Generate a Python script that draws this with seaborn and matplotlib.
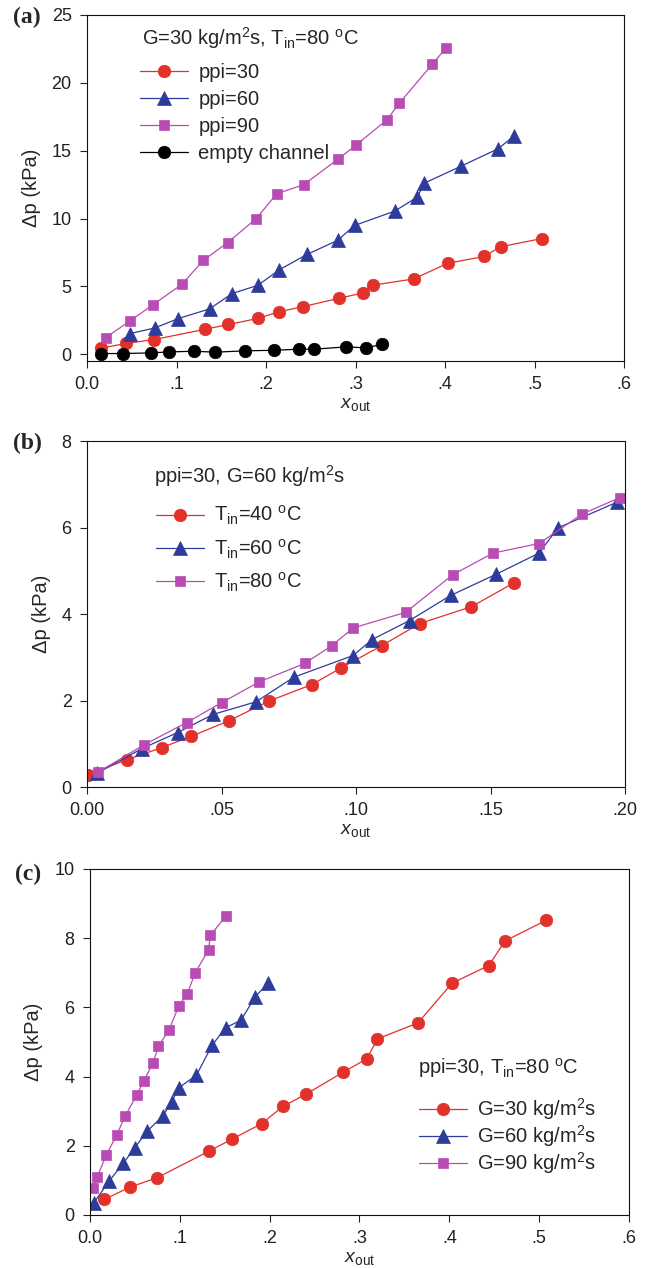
import numpy as np
import pandas as pd
import seaborn as sns
import matplotlib.pyplot as plt

# (a) G=30, Tin=80, different foams
x_ppi30 = [0.016, 0.044, 0.075, 0.132, 0.158, 0.191, 0.215, 0.241, 0.282, 0.308, 0.320, 0.365, 0.403, 0.444, 0.462, 0.508]
dp_ppi30 = [0.45, 0.80, 1.08, 1.84, 2.19, 2.64, 3.14, 3.50, 4.13, 4.51, 5.09, 5.55, 6.70, 7.21, 7.92, 8.52]
x_ppi60 = [0.048, 0.076, 0.102, 0.137, 0.162, 0.191, 0.215, 0.246, 0.280, 0.299, 0.344, 0.369, 0.377, 0.418, 0.459, 0.477]
dp_ppi60 = [1.52, 1.94, 2.63, 3.34, 4.47, 5.08, 6.23, 7.36, 8.39, 9.49, 10.55, 11.58, 12.61, 13.86, 15.13, 16.07]
x_ppi90 = [0.021, 0.048, 0.074, 0.106, 0.130, 0.157, 0.189, 0.212, 0.242, 0.280, 0.301, 0.335, 0.349, 0.386, 0.401]
dp_ppi90 = [1.23, 2.45, 3.66, 5.15, 6.92, 8.22, 9.99, 11.83, 12.49, 14.35, 15.43, 17.27, 18.50, 21.39, 22.55]
x_empty = [0.016, 0.040, 0.072, 0.092, 0.120, 0.143, 0.177, 0.209, 0.237, 0.254, 0.289, 0.312, 0.330]
dp_empty = [0.05, 0.05, 0.10, 0.17, 0.22, 0.15, 0.25, 0.29, 0.37, 0.37, 0.54, 0.47, 0.74]

# (b) ppi=30, G=60, different inlet temperatures
x_t40 = [0.0005, 0.0147, 0.0277, 0.0386, 0.0527, 0.0677, 0.0836, 0.0946, 0.1096, 0.1237, 0.1429, 0.1587]
dp_t40 = [0.29, 0.63, 0.91, 1.17, 1.53, 1.99, 2.37, 2.76, 3.27, 3.78, 4.17, 4.72]
x_t60 = [0.0038, 0.0204, 0.0337, 0.0469, 0.0628, 0.0769, 0.0989, 0.1060, 0.1199, 0.1352, 0.1521, 0.1681, 0.1750, 0.1972]
dp_t60 = [0.32, 0.89, 1.26, 1.68, 1.97, 2.54, 3.04, 3.41, 3.85, 4.43, 4.92, 5.41, 5.99, 6.59]
# same run: ppi=30, G=60, Tin=80
x_t80 = [0.004, 0.021, 0.037, 0.050, 0.064, 0.081, 0.091, 0.099, 0.1185, 0.136, 0.151, 0.168, 0.184, 0.198]
dp_t80 = [0.34, 0.97, 1.49, 1.95, 2.43, 2.86, 3.27, 3.68, 4.04, 4.91, 5.41, 5.63, 6.31, 6.69]

# (c) ppi=30, Tin=80, different mass fluxes
x_g90 = [0.003, 0.008, 0.018, 0.030, 0.039, 0.052, 0.060, 0.070, 0.076, 0.088, 0.099, 0.108, 0.117, 0.132, 0.134, 0.151]
dp_g90 = [0.77, 1.09, 1.73, 2.32, 2.86, 3.46, 3.88, 4.38, 4.87, 5.35, 6.05, 6.38, 6.99, 7.67, 8.08, 8.63]

xticks_06 = [0, 0.1, 0.2, 0.3, 0.4, 0.5, 0.6]
xlabels_06 = ['0.0', '.1', '.2', '.3', '.4', '.5', '.6']
xticks_02 = [0, 0.05, 0.10, 0.15, 0.20]
xlabels_02 = ['0.00', '.05', '.10', '.15', '.20']

RED = '#e2302a'
BLUE = '#2d3c9b'
MAG = '#b94bb5'
BLK = '#000000'

sns.set_style('ticks')
plt.rcParams['font.family'] = ['Liberation Sans', 'DejaVu Sans']
plt.rcParams['mathtext.fontset'] = 'custom'
plt.rcParams['mathtext.rm'] = 'Liberation Sans'
plt.rcParams['mathtext.it'] = 'Liberation Sans:italic'
plt.rcParams['mathtext.default'] = 'regular'

FS_TICK = 13
FS_LEG = 14.5
fig = plt.figure(figsize=(6.46, 12.68), dpi=100)
ax_a = fig.add_axes([0.1347, 0.7153, 0.8313, 0.2729])
ax_b = fig.add_axes([0.1347, 0.3793, 0.8328, 0.2729])
ax_c = fig.add_axes([0.1393, 0.0418, 0.8344, 0.2729])


def series(ax, x, y, color, marker, ms, label):
    sns.lineplot(x=x, y=y, ax=ax, color=color, marker=marker, markersize=ms,
                 markeredgecolor=color, markeredgewidth=0.5, linewidth=0.9,
                 estimator=None, sort=False, label=label)


def style(ax, xt, xl, yt, ylim, tag, tag_xy):
    ax.set_xlim(xt[0], xt[-1])
    ax.set_ylim(*ylim)
    ax.set_xticks(xt)
    ax.set_xticklabels(xl)
    ax.set_yticks(yt)
    ax.tick_params(direction='out', length=5, width=0.8, pad=6, labelsize=FS_TICK,
                   top=False, right=False, colors='#222222')
    for s in ax.spines.values():
        s.set_visible(True)
        s.set_linewidth(0.8)
        s.set_color('#111111')
    ax.set_xlabel(r'$\mathit{x}_{out}$', fontsize=FS_TICK + 1, labelpad=2)
    ax.set_ylabel('Δp (kPa)', fontsize=FS_LEG, labelpad=8)
    ax.text(tag_xy[0], tag_xy[1], tag, transform=ax.transAxes, fontsize=17,
            fontweight='bold', family='Liberation Serif', va='center', ha='left')


def legend(ax, title, title_xy, anchor, spacing):
    ax.text(title_xy[0], title_xy[1], title, transform=ax.transAxes,
            fontsize=FS_LEG, ha='left', va='baseline')
    ax.legend(frameon=False, fontsize=FS_LEG, handlelength=2.4, handletextpad=0.5,
              borderpad=0, borderaxespad=0, loc='upper left',
              bbox_to_anchor=anchor, labelspacing=spacing)


series(ax_a, x_ppi30, dp_ppi30, RED, 'o', 9, 'ppi=30')
series(ax_a, x_ppi60, dp_ppi60, BLUE, '^', 9.5, 'ppi=60')
series(ax_a, x_ppi90, dp_ppi90, MAG, 's', 7.5, 'ppi=90')
series(ax_a, x_empty, dp_empty, BLK, 'o', 9, 'empty channel')
style(ax_a, xticks_06, xlabels_06, [0, 5, 10, 15, 20, 25], (-0.5, 25), '(a)', (-0.138, 0.994))
legend(ax_a, r'G=30 kg/m$^{2}$s, T$_{in}$=80 $^{o}$C', (0.102, 0.913), (0.0987, 0.861), 0.4)

series(ax_b, x_t40, dp_t40, RED, 'o', 9, r'T$_{in}$=40 $^{o}$C')
series(ax_b, x_t60, dp_t60, BLUE, '^', 9.5, r'T$_{in}$=60 $^{o}$C')
series(ax_b, x_t80, dp_t80, MAG, 's', 7.5, r'T$_{in}$=80 $^{o}$C')
style(ax_b, xticks_02, xlabels_02, [0, 2, 4, 6, 8], (0, 8), '(b)', (-0.138, 0.994))
legend(ax_b, r'ppi=30, G=60 kg/m$^{2}$s', (0.1245, 0.879), (0.128, 0.818), 0.5)

series(ax_c, x_ppi30, dp_ppi30, RED, 'o', 9, r'G=30 kg/m$^{2}$s')
series(ax_c, x_t80, dp_t80, BLUE, '^', 9.5, r'G=60 kg/m$^{2}$s')
series(ax_c, x_g90, dp_g90, MAG, 's', 7.5, r'G=90 kg/m$^{2}$s')
style(ax_c, xticks_06, xlabels_06, [0, 2, 4, 6, 8, 10], (0, 10), '(c)', (-0.139, 0.983))
legend(ax_c, r'ppi=30, T$_{in}$=80 $^{o}$C', (0.6085, 0.4075), (0.610, 0.344), 0.07)

fig.savefig('out.png', dpi=100)
